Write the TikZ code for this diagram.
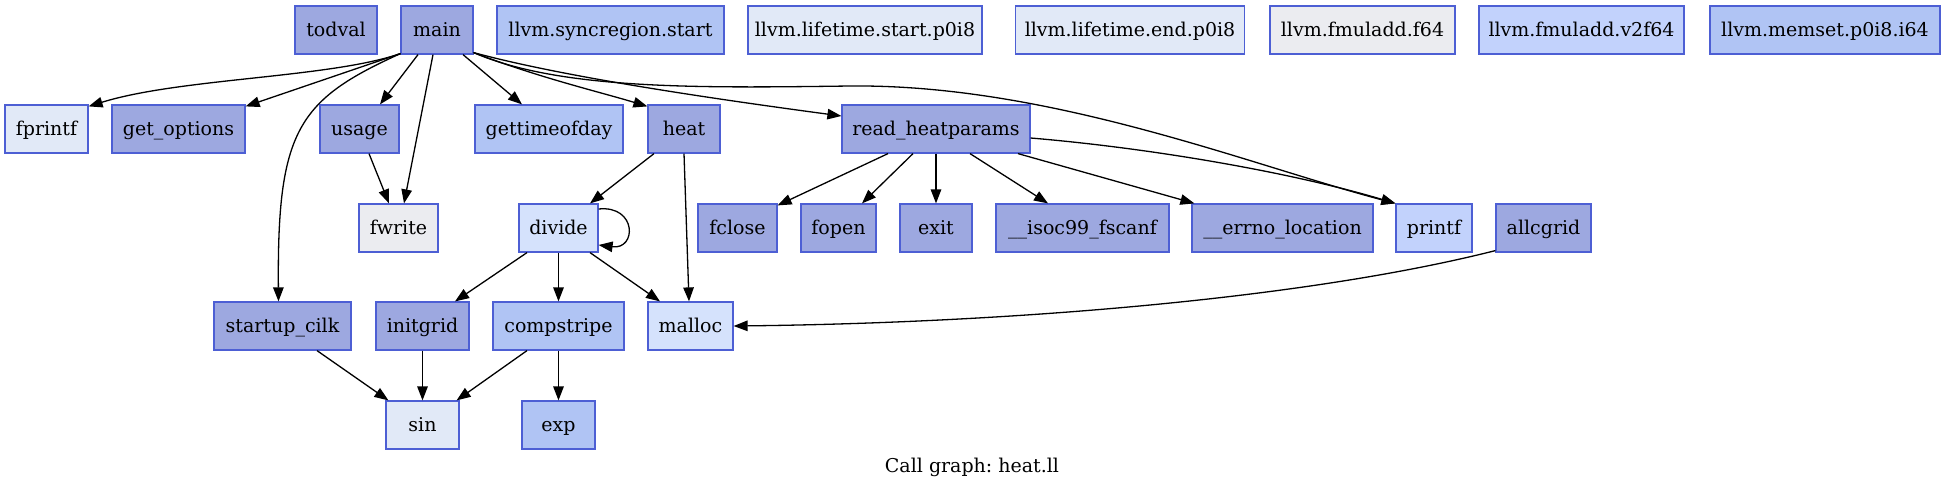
\documentclass[tikz,border=0pt]{standalone}
\usepackage{fontspec}
\setmainfont{DejaVu Serif}
\frenchspacing
\usetikzlibrary{arrows.meta,calc}
\definecolor{cA}{HTML}{9DA8E0}
\definecolor{cB}{HTML}{B0C4F4}
\definecolor{cC}{HTML}{C2D2FC}
\definecolor{cD}{HTML}{D5E2FC}
\definecolor{cE}{HTML}{E1E9F7}
\definecolor{cF}{HTML}{EBECF0}
\definecolor{bord}{HTML}{4D5FD4}
\tikzset{
  fn/.style={draw=bord, line width=1.2pt, rectangle, inner sep=0pt, minimum height=48pt, text height=16pt, text depth=3pt, font=\fontsize{19}{22}\selectfont},
  edge/.style={draw=black, line width=1.3pt, -{Triangle[length=14pt,width=10.5pt]}},
}
\begin{document}
\begin{tikzpicture}[x=1pt,y=-1pt]
\useasboundingbox (0,0) rectangle (1945,487);
% row 1
\node[fn, fill=cA, minimum width=82pt]  (todval) at (336,30) {todval};
\node[fn, fill=cA, minimum width=72pt]  (main) at (437,30) {main};
\node[fn, fill=cB, minimum width=227pt] (sync) at (610.5,30) {llvm.syncregion.start};
\node[fn, fill=cE, minimum width=234pt] (lts) at (865,30) {llvm.lifetime.start.p0i8};
\node[fn, fill=cE, minimum width=229pt] (lte) at (1130,30) {llvm.lifetime.end.p0i8};
\node[fn, fill=cF, minimum width=185pt] (fma) at (1362.5,30) {llvm.fmuladd.f64};
\node[fn, fill=cC, minimum width=205pt] (fmav) at (1581.5,30) {llvm.fmuladd.v2f64};
\node[fn, fill=cB, minimum width=230pt] (memset) at (1825,30) {llvm.memset.p0i8.i64};
% row 2
\node[fn, fill=cE, minimum width=83pt]  (fprintf) at (46.5,129) {fprintf};
\node[fn, fill=cA, minimum width=133pt] (getopt) at (178.5,129) {get\_options};
\node[fn, fill=cA, minimum width=79pt]  (usage) at (359.5,129) {usage};
\node[fn, fill=cB, minimum width=148pt] (gtod) at (549,129) {gettimeofday};
\node[fn, fill=cA, minimum width=72pt]  (heat) at (684,129) {heat};
\node[fn, fill=cA, minimum width=188pt] (rh) at (936,129) {read\_heatparams};
% row 3
\node[fn, fill=cF, minimum width=79pt]  (fwrite) at (398.5,228) {fwrite};
\node[fn, fill=cD, minimum width=79pt]  (divide) at (558.5,228) {divide};
\node[fn, fill=cA, minimum width=79pt]  (fclose) at (737.5,228) {fclose};
\node[fn, fill=cA, minimum width=75pt]  (fopen) at (838.5,228) {fopen};
\node[fn, fill=cA, minimum width=72pt]  (exit) at (936,228) {exit};
\node[fn, fill=cA, minimum width=173pt] (fscanf) at (1082.5,228) {\_\_isoc99\_fscanf};
\node[fn, fill=cA, minimum width=181pt] (errno) at (1282.5,228) {\_\_errno\_location};
\node[fn, fill=cC, minimum width=76pt]  (printf) at (1434,228) {printf};
\node[fn, fill=cA, minimum width=95pt]  (allcgrid) at (1543.5,228) {allcgrid};
% row 4
\node[fn, fill=cA, minimum width=137pt] (startup) at (282.5,326) {startup\_cilk};
\node[fn, fill=cA, minimum width=93pt]  (initgrid) at (422.5,326) {initgrid};
\node[fn, fill=cB, minimum width=131pt] (compstripe) at (558.5,326) {compstripe};
\node[fn, fill=cD, minimum width=85pt]  (malloc) at (690.5,326) {malloc};
% row 5
\node[fn, fill=cE, minimum width=73pt]  (sin) at (422.5,425) {sin};
\node[fn, fill=cB, minimum width=73pt]  (exp) at (558.5,425) {exp};
% caption
\node[font=\fontsize{19}{22}\selectfont, inner sep=0pt, text height=16pt, text depth=3pt] (cap) at (972,466) {Call graph: heat.ll};
\coordinate (mp) at (850,86);
% edges from main
\draw[edge] ([yshift=1pt]main.south west) .. controls (330,78) and (180,78) .. ([yshift=-2pt]fprintf.north east);
\draw[edge] ([yshift=1pt]main.south west) -- ([yshift=-2pt]getopt.north east);
\draw[edge] ([yshift=1pt]main.south west) .. controls (298,100) and (277,130) .. ([xshift=-4pt]startup.north);
\draw[edge] ([xshift=-19pt]main.south) -- ([xshift=20.5pt]usage.north);
\draw[edge] ([xshift=-4pt]main.south) -- ([xshift=5.5pt]fwrite.north);
\draw[edge] ([xshift=26pt]main.south) -- ([xshift=-27pt]gtod.north);
\draw[edge] ([yshift=2pt]main.south east) .. controls (540,78) and (600,92) .. ([yshift=-2pt]heat.north west);
\draw[edge] ([yshift=2pt]main.south east) .. controls (560,76) and (700,97) .. ([yshift=13pt]rh.west);
\draw[edge] ([yshift=2pt]main.south east) .. controls (560,90) and (700,88) .. (mp) .. controls (1050,84) and (1250,165) .. (printf.north west);
% usage
\draw[edge] ([xshift=9.5pt]usage.south) -- ([xshift=-9.5pt]fwrite.north);
% heat
\draw[edge] ([xshift=-30pt]heat.south) -- ([xshift=31.5pt]divide.north);
\draw[edge] (heat.south) -- ([xshift=-1.5pt]malloc.north);
% divide
\draw[edge] ([yshift=19pt]divide.east) .. controls (637,205) and (637,250) .. ([yshift=-17pt]divide.east);
\draw[edge] ([xshift=-31.5pt]divide.south) -- ([xshift=32.5pt]initgrid.north);
\draw[edge] (divide.south) -- (compstripe.north);
\draw[edge] ([xshift=31.5pt]divide.south) -- ([xshift=-30.5pt]malloc.north);
% read_heatparams
\draw[edge] ([xshift=-48pt]rh.south) -- ([yshift=-2pt]fclose.north east);
\draw[edge] ([xshift=-23pt]rh.south) -- ([xshift=23.5pt]fopen.north);
\draw[edge] (rh.south) -- (exit.north);
\draw[edge] ([xshift=34pt]rh.south) -- ([xshift=-34.5pt]fscanf.north);
\draw[edge] ([xshift=82pt]rh.south) -- ([xshift=3pt]errno.north west);
\draw[edge] ([yshift=-9pt]rh.east) .. controls (1150,148) and (1290,172) .. (printf.north west);
% allcgrid
\draw[edge] ([yshift=2pt]allcgrid.south west) .. controls (1300,300) and (1000,323) .. (malloc.east);
% lower
\draw[edge] ([xshift=34.5pt]startup.south) -- ([xshift=3pt]sin.north west);
\draw[edge] (initgrid.south) -- (sin.north);
\draw[edge] ([xshift=-31.5pt]compstripe.south) -- ([xshift=-3pt]sin.north east);
\draw[edge] (compstripe.south) -- (exp.north);
\end{tikzpicture}
\end{document}
